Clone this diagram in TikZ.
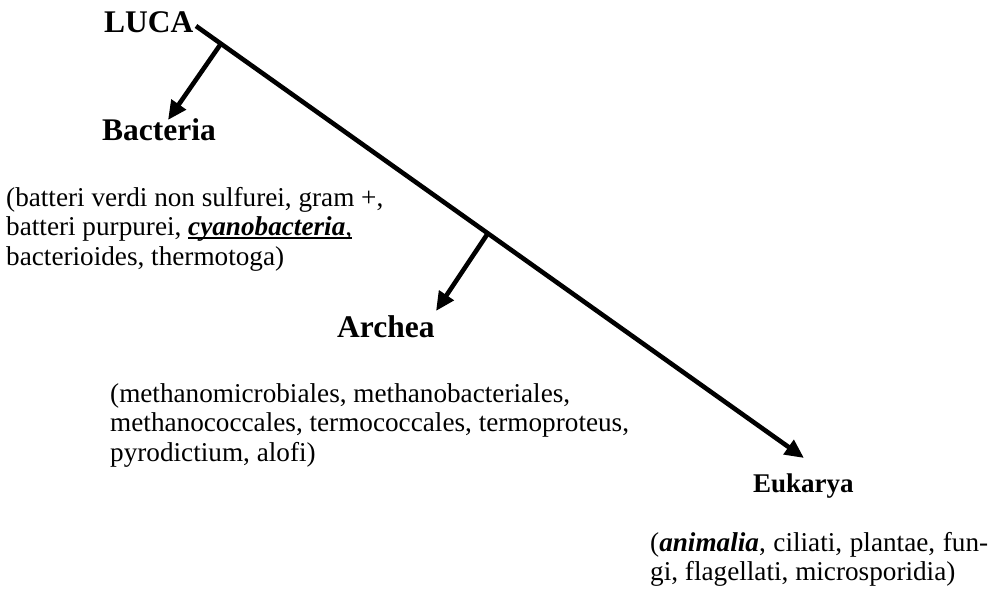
\documentclass[tikz,border=0pt]{standalone}
\usepackage{fontspec}
\setmainfont{Liberation Serif}
\usetikzlibrary{arrows.meta,calc}
\newcommand\myul[1]{\setbox0\hbox{#1}\rlap{\rule[-3.2pt]{\wd0}{2pt}}\box0}
\begin{document}
\begin{tikzpicture}[x=1pt,y=-1pt,
  head/.style={font=\fontsize{31.5}{34}\selectfont\bfseries, inner sep=0pt, anchor=base west},
  smallhead/.style={font=\fontsize{27}{30}\selectfont\bfseries, inner sep=0pt, anchor=base west},
  desc/.style={font=\fontsize{27.2}{29.5}\selectfont, inner sep=0pt, anchor=base west},
  branch/.style={line width=4.6pt, -{Triangle[length=19pt,width=17pt]}},
  trunk/.style={line width=4.6pt, -{Triangle[length=19pt,width=17pt]}}]
\useasboundingbox (0,0) rectangle (998,590);
\node[head] (luca) at (104,32) {LUCA};
\node[head] (bact) at (102,140) {Bacteria};
\node[head] (arch) at (337,337) {Archea};
\node[smallhead] (euk) at (753,492) {Eukarya};
\node[desc] (bdesc) at (6,206) {\begin{tabular}[t]{@{}l@{}}
(batteri verdi non sulfurei, gram +,\\
batteri purpurei, \myul{\textbf{\textit{cyanobacteria}},}\\
bacterioides, thermotoga)\end{tabular}};
\node[desc] (adesc) at (110,402) {\begin{tabular}[t]{@{}l@{}}
(methanomicrobiales, methanobacteriales,\\
methanococcales, termococcales, termoproteus,\\
pyrodictium, alofi)\end{tabular}};
\node[desc] (edesc) at (650,551) {\begin{tabular}[t]{@{}l@{}}
\makebox[338pt][s]{(\textbf{\textit{animalia}}, ciliati, plantae, fun-}\\
gi, flagellati, microsporidia)\end{tabular}};
\coordinate (root) at (196,26);
\coordinate (etip) at (804,458);
\coordinate (bfork) at ($(root)!0.041!(etip)$);
\coordinate (afork) at ($(root)!0.48!(etip)$);
\coordinate (btip) at (168,120);
\coordinate (atip) at (436,311);
\draw[trunk] (root) -- (etip);
\draw[branch] (bfork) -- (btip);
\draw[branch] (afork) -- (atip);
\end{tikzpicture}
\end{document}
